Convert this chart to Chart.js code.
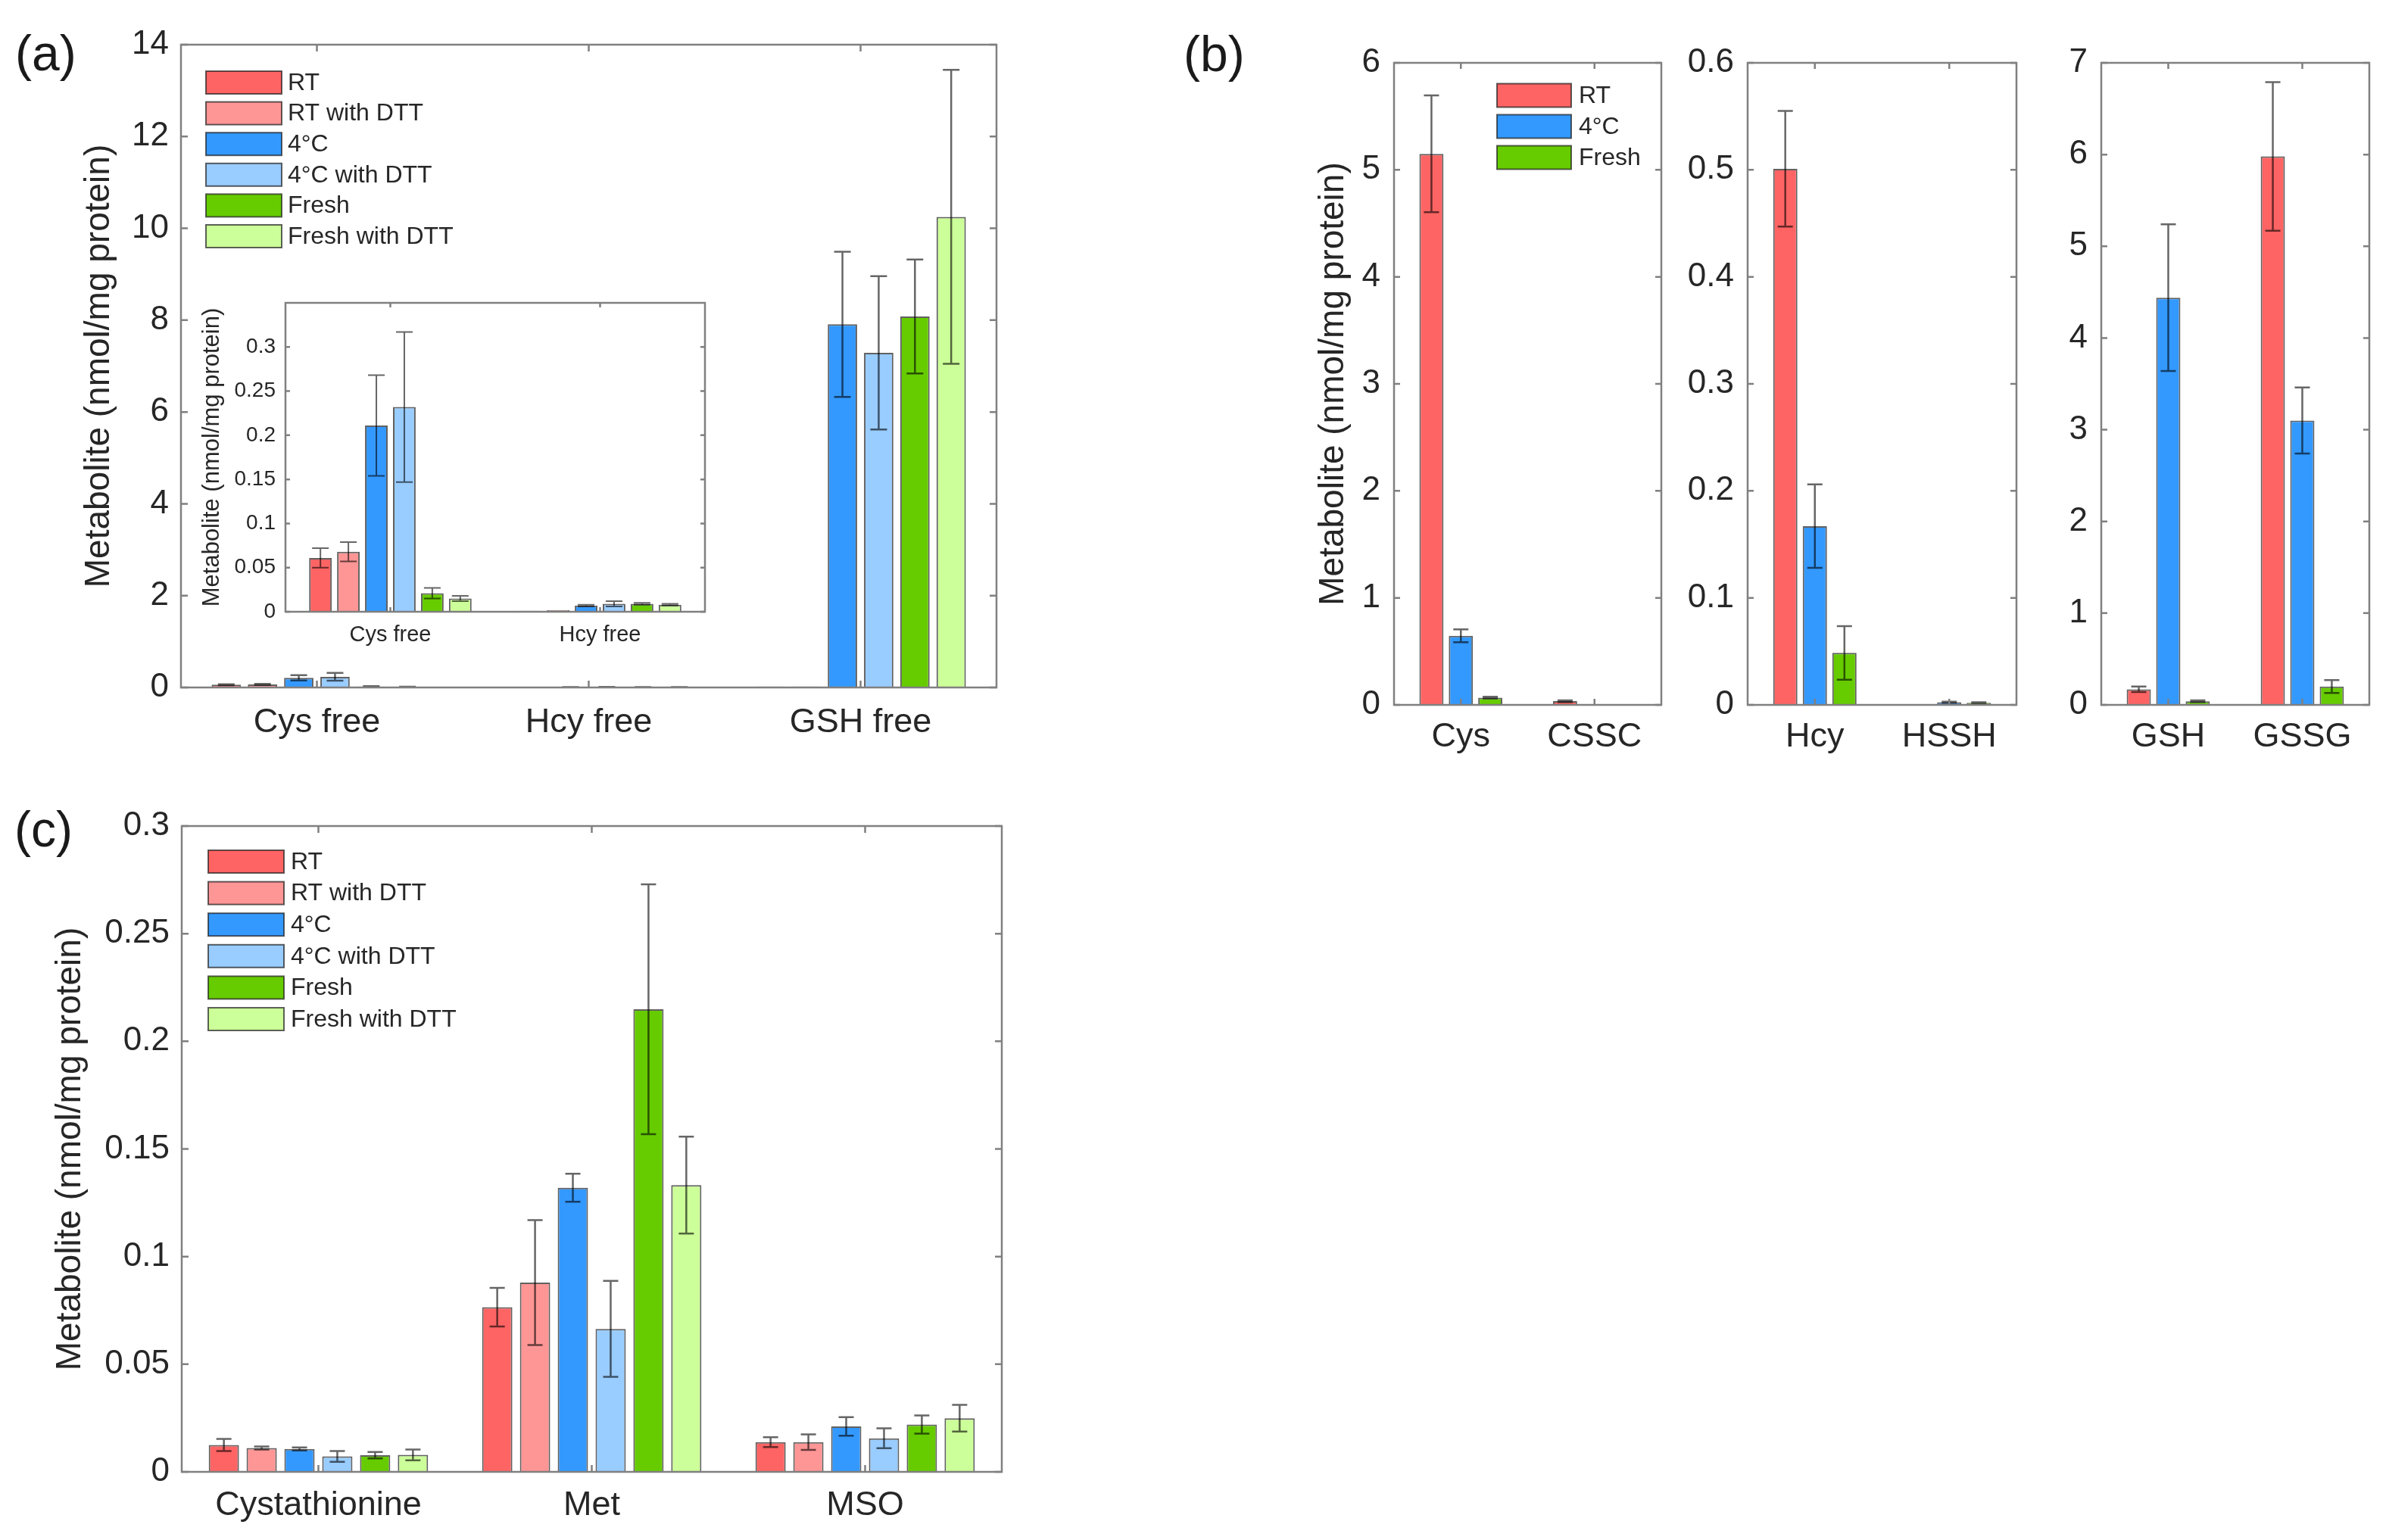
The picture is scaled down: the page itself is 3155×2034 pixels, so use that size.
<!DOCTYPE html>
<html>
<head>
<meta charset="utf-8">
<script src="https://cdn.jsdelivr.net/npm/chart.js@4.4.1/dist/chart.umd.min.js"></script>
<style>
  html, body { margin: 0; padding: 0; background: #fff; }
  #page { position: relative; width: 3155px; height: 2034px; overflow: hidden; }
  #page canvas { position: absolute; left: 0; top: 0; }
  .tag { position: absolute; font-family: 'Liberation Sans', Arial, sans-serif; font-size: 66px; line-height: 1; color: #1a1a1a; }
</style>
</head>
<body>
<div id="page">
  <canvas id="freeMain" width="3155" height="2034"></canvas>
  <canvas id="freeInset" width="3155" height="2034"></canvas>
  <canvas id="cysChart" width="3155" height="2034"></canvas>
  <canvas id="hcyChart" width="3155" height="2034"></canvas>
  <canvas id="gshChart" width="3155" height="2034"></canvas>
  <canvas id="otherChart" width="3155" height="2034"></canvas>
  <div class="tag" style="left:20px;top:37px">(a)</div>
  <div class="tag" style="left:1563px;top:38px">(b)</div>
  <div class="tag" style="left:19px;top:1062px">(c)</div>
</div>
<script>
// sample groups, six-way split used in (a) and (c)
const groupsAll = ['RT', 'RT with DTT', '4°C', '4°C with DTT', 'Fresh', 'Fresh with DTT']
const colorsAll = ['#ff6464', '#ff9696', '#3399ff', '#99ccff', '#66cc00', '#ccff99']

// (a) free thiols, one row per group
const freeLabels = ['Cys free', 'Hcy free', 'GSH free']
const freeMeans = [
  [0.061, 0.001, 0.02],
  [0.068, 0.002, 0.02],
  [0.211, 0.007, 7.91],
  [0.232, 0.009, 7.29],
  [0.021, 0.009, 8.08],
  [0.015, 0.008, 10.25]
]
const freeErrors = [
  [0.011, 0, 0],
  [0.011, 0, 0],
  [0.057, 0.001, 1.58],
  [0.085, 0.003, 1.67],
  [0.006, 0.001, 1.24],
  [0.003, 0.001, 3.2]
]
const freeTicks = [0, 2, 4, 6, 8, 10, 12, 14]
const insetTicks = [0, 0.05, 0.1, 0.15, 0.2, 0.25, 0.3]
const insetMax = 0.35

// (b) reduced / oxidised pairs
const bGroups = ['RT', '4°C', 'Fresh']
const bColors = [colorsAll[0], colorsAll[2], colorsAll[4]]

const cysLabels = ['Cys', 'CSSC']
const cysMeans = [[5.15, 0.035], [0.645, 0], [0.068, 0]]
const cysErrors = [[0.545, 0.008], [0.06, 0], [0.008, 0]]
const cysTicks = [0, 1, 2, 3, 4, 5, 6]

const hcyLabels = ['Hcy', 'HSSH']
const hcyMeans = [[0.501, 0], [0.167, 0.0025], [0.0486, 0.002]]
const hcyErrors = [[0.054, 0], [0.039, 0.0005], [0.025, 0.0005]]
const hcyTicks = [0, 0.1, 0.2, 0.3, 0.4, 0.5, 0.6]

const gshLabels = ['GSH', 'GSSG']
const gshMeans = [[0.17, 5.98], [4.44, 3.10], [0.04, 0.2]]
const gshErrors = [[0.03, 0.81], [0.8, 0.36], [0.01, 0.07]]
const gshTicks = [0, 1, 2, 3, 4, 5, 6, 7]

// (c) other metabolites
const otherLabels = ['Cystathionine', 'Met', 'MSO']
const otherMeans = [
  [0.0125, 0.0765, 0.0138],
  [0.0111, 0.0879, 0.0138],
  [0.0106, 0.132, 0.0211],
  [0.0072, 0.0664, 0.0156],
  [0.0077, 0.2149, 0.022],
  [0.0079, 0.1332, 0.0249]
]
const otherErrors = [
  [0.0028, 0.009, 0.0023],
  [0.0007, 0.029, 0.0036],
  [0.0007, 0.0065, 0.0043],
  [0.0025, 0.0223, 0.0046],
  [0.0015, 0.058, 0.0042],
  [0.0025, 0.0225, 0.0062]
]
const otherTicks = [0, 0.05, 0.1, 0.15, 0.2, 0.25, 0.3]

const W = 3155, H = 2034
const ink = '#262626'
const family = "'Liberation Sans', Arial, sans-serif"
const edge = 'rgba(30, 30, 30, 0.7)'
const yTitle = 'Metabolite (nmol/mg protein)'

Chart.defaults.font.family = family
Chart.defaults.color = ink

// error bars drawn from dataset.errors
const errorBars = {
  id: 'errorBars',
  afterDatasetsDraw(chart, args, o) {
    const { ctx } = chart
    const y = chart.scales.y
    ctx.save()
    ctx.strokeStyle = 'rgba(0, 0, 0, 0.6)'
    ctx.lineWidth = o.width
    chart.data.datasets.forEach((ds, i) => {
      chart.getDatasetMeta(i).data.forEach((bar, j) => {
        const e = ds.errors[j]
        if (!e) return
        const v = ds.data[j]
        const hi = y.getPixelForValue(v + e)
        const lo = y.getPixelForValue(v - e)
        ctx.beginPath()
        ctx.moveTo(bar.x, hi); ctx.lineTo(bar.x, lo)
        ctx.moveTo(bar.x - o.cap, hi); ctx.lineTo(bar.x + o.cap, hi)
        ctx.moveTo(bar.x - o.cap, lo); ctx.lineTo(bar.x + o.cap, lo)
        ctx.stroke()
      })
    })
    ctx.restore()
  }
}

// MATLAB-style box with inward ticks
const frame = {
  id: 'frame',
  afterDatasetsDraw(chart, args, o) {
    const { ctx, chartArea: a } = chart
    const { x, y } = chart.scales
    ctx.save()
    ctx.strokeStyle = '#808080'
    ctx.lineWidth = 2.5
    ctx.beginPath()
    y.ticks.forEach((t, i) => {
      const py = y.getPixelForTick(i)
      ctx.moveTo(a.left, py); ctx.lineTo(a.left + o.tick, py)
      ctx.moveTo(a.right, py); ctx.lineTo(a.right - o.tick, py)
    })
    x.ticks.forEach((t, i) => {
      const px = x.getPixelForTick(i)
      ctx.moveTo(px, a.bottom); ctx.lineTo(px, a.bottom - o.tick)
      ctx.moveTo(px, a.top); ctx.lineTo(px, a.top + o.tick)
    })
    ctx.stroke()
    ctx.strokeRect(a.left, a.top, a.right - a.left, a.bottom - a.top)
    ctx.restore()
  }
}

// legend inside the plot, no surrounding box
const boxLegend = {
  id: 'boxLegend',
  afterDraw(chart, args, o) {
    const { ctx, chartArea: a } = chart
    ctx.save()
    ctx.font = o.size + 'px ' + family
    ctx.textBaseline = 'middle'
    ctx.lineWidth = 2
    chart.data.datasets.forEach((ds, i) => {
      const cy = a.top + o.y + i * o.step
      const x0 = a.left + o.x
      ctx.fillStyle = ds.backgroundColor
      ctx.fillRect(x0, cy - o.h / 2, o.w, o.h)
      ctx.strokeStyle = edge
      ctx.strokeRect(x0, cy - o.h / 2, o.w, o.h)
      ctx.fillStyle = ink
      ctx.fillText(ds.label, x0 + o.w + o.gap, cy + 1)
    })
    ctx.restore()
  }
}

function barChart(id, o) {
  const datasets = o.groups.map((g, i) => ({
    label: g,
    data: o.means[i],
    errors: o.errors[i],
    backgroundColor: o.colors[i],
    borderColor: edge,
    borderWidth: 2,
    categoryPercentage: o.cat,
    barPercentage: o.bar
  }))
  const p = o.plot
  return new Chart(document.getElementById(id), {
    type: 'bar',
    data: { labels: o.labels, datasets },
    options: {
      responsive: false,
      animation: false,
      events: [],
      layout: {
        padding: { left: p.l - o.yW, top: p.t, right: W - p.r, bottom: H - p.b - o.xH }
      },
      plugins: {
        legend: { display: false },
        tooltip: { enabled: false },
        errorBars: { cap: o.cap, width: o.errW },
        frame: { tick: o.tick },
        boxLegend: o.legend || false
      },
      scales: {
        x: {
          grid: { display: false, drawTicks: false },
          border: { display: false },
          ticks: { font: { size: o.xFont }, color: ink, padding: o.xPad, maxRotation: 0, autoSkip: false },
          afterFit: s => { s.height = o.xH }
        },
        y: {
          min: 0,
          max: o.max,
          grid: { display: false, drawTicks: false },
          border: { display: false },
          afterBuildTicks: s => { s.ticks = o.ticks.map(v => ({ value: v })) },
          ticks: { font: { size: o.yFont }, color: ink, padding: o.yPad, callback: v => String(+Number(v).toFixed(4)) },
          title: o.titlePad == null ? { display: false } : {
            display: true, text: yTitle, color: ink,
            font: { size: o.titleFont }, padding: { top: o.titlePad, bottom: 0 }
          },
          afterFit: s => { s.width = o.yW }
        }
      }
    },
    plugins: [errorBars, frame, boxLegend]
  })
}

// (a) main
barChart('freeMain', {
  labels: freeLabels, groups: groupsAll, colors: colorsAll,
  means: freeMeans, errors: freeErrors,
  ticks: freeTicks, max: freeTicks[freeTicks.length - 1],
  plot: { l: 239, t: 59, r: 1316, b: 908 },
  yW: 239, xH: 90, yFont: 44, xFont: 45, yPad: 16, xPad: 20,
  titleFont: 46, titlePad: 104,
  cat: 0.8, bar: 0.81, cap: 11, errW: 2.5, tick: 9,
  legend: { x: 33, y: 50, step: 40.6, w: 100, h: 30, gap: 8, size: 32 }
})

// (a) inset, first two categories only
barChart('freeInset', {
  labels: freeLabels.slice(0, 2), groups: groupsAll, colors: colorsAll,
  means: freeMeans.map(r => r.slice(0, 2)), errors: freeErrors.map(r => r.slice(0, 2)),
  ticks: insetTicks, max: insetMax,
  plot: { l: 377, t: 400, r: 931, b: 808 },
  yW: 150, xH: 60, yFont: 28, xFont: 29, yPad: 13, xPad: 14,
  titleFont: 31, titlePad: 35,
  cat: 0.8, bar: 0.81, cap: 11, errW: 2, tick: 6
})

// (b) three panels
barChart('cysChart', {
  labels: cysLabels, groups: bGroups, colors: bColors,
  means: cysMeans, errors: cysErrors,
  ticks: cysTicks, max: cysTicks[cysTicks.length - 1],
  plot: { l: 1841, t: 83, r: 2194, b: 931 },
  yW: 200, xH: 90, yFont: 44, xFont: 45, yPad: 18, xPad: 16,
  titleFont: 46, titlePad: 93,
  cat: 0.66, bar: 0.82, cap: 10, errW: 2.5, tick: 8,
  legend: { x: 136, y: 43, step: 41, w: 98, h: 31, gap: 10, size: 32 }
})

barChart('hcyChart', {
  labels: hcyLabels, groups: bGroups, colors: bColors,
  means: hcyMeans, errors: hcyErrors,
  ticks: hcyTicks, max: hcyTicks[hcyTicks.length - 1],
  plot: { l: 2308, t: 83, r: 2663, b: 931 },
  yW: 100, xH: 90, yFont: 44, xFont: 45, yPad: 18, xPad: 16,
  cat: 0.66, bar: 0.82, cap: 10, errW: 2.5, tick: 8
})

barChart('gshChart', {
  labels: gshLabels, groups: bGroups, colors: bColors,
  means: gshMeans, errors: gshErrors,
  ticks: gshTicks, max: gshTicks[gshTicks.length - 1],
  plot: { l: 2775, t: 83, r: 3129, b: 931 },
  yW: 100, xH: 90, yFont: 44, xFont: 45, yPad: 18, xPad: 16,
  cat: 0.66, bar: 0.82, cap: 10, errW: 2.5, tick: 8
})

// (c)
barChart('otherChart', {
  labels: otherLabels, groups: groupsAll, colors: colorsAll,
  means: otherMeans, errors: otherErrors,
  ticks: otherTicks, max: otherTicks[otherTicks.length - 1],
  plot: { l: 240, t: 1091, r: 1323, b: 1944 },
  yW: 240, xH: 85, yFont: 44, xFont: 45, yPad: 16, xPad: 18,
  titleFont: 46, titlePad: 66,
  cat: 0.83, bar: 0.8, cap: 10, errW: 2.5, tick: 9,
  legend: { x: 35, y: 47, step: 41.6, w: 100, h: 30, gap: 9, size: 32 }
})
</script>
</body>
</html>
